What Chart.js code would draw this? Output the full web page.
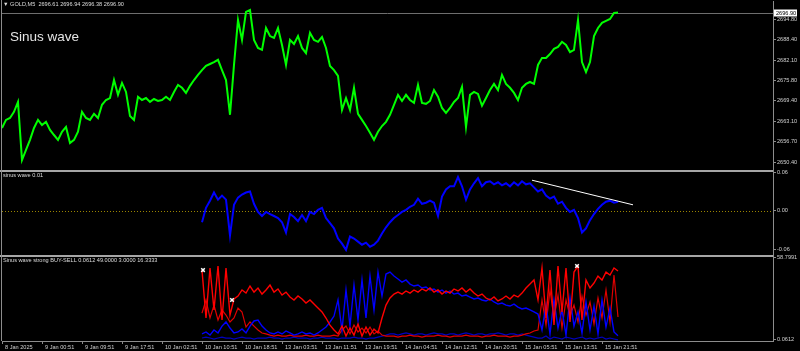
<!DOCTYPE html>
<html>
<head>
<meta charset="utf-8">
<script src="https://cdn.jsdelivr.net/npm/chart.js@4/dist/chart.umd.min.js"></script>
<style>
  html, body { margin: 0; padding: 0; background: #000; }
  #marco { position: relative; width: 800px; height: 351px; }
  .txt { position: absolute; color: #dcdcdc; font-family: 'Liberation Sans', Arial, sans-serif; font-size: 5.6px; line-height: 1; white-space: nowrap; }
</style>
</head>
<body>
<div id="marco">
  <canvas id="graficoOro" width="800" height="351"></canvas>
  <div class="txt" style="left:3px;top:2.3px">▼ GOLD,M5 &nbsp;2696.61 2696.94 2696.38 2696.90</div>
  <div class="txt" style="left:10px;top:30px;font-size:13.5px;color:#e4e4e4">Sinus wave</div>
  <div class="txt" style="left:3px;top:173.3px">sinus wave 0.01</div>
  <div class="txt" style="left:3px;top:258.3px">Sinus wave strong BUY-SELL 0.0612 49.0000 3.0000 16.3333</div>
</div>
<script>
// Etiquetas del eje de tiempo (una cada 10 barras del gráfico)
const etiquetasTiempo = [
  '8 Jan 2025', '9 Jan 00:51', '9 Jan 09:51', '9 Jan 17:51', '10 Jan 02:51', '10 Jan 10:51',
  '10 Jan 18:51', '13 Jan 03:51', '13 Jan 11:51', '13 Jan 19:51', '14 Jan 04:51', '14 Jan 12:51',
  '14 Jan 20:51', '15 Jan 05:51', '15 Jan 13:51', '15 Jan 21:51'
];

// Escala de precio
const ticksPrecio = [2694.80, 2688.40, 2682.10, 2675.80, 2669.40, 2663.10, 2656.70, 2650.40];
const precioActual = 2696.90;

// Precio GOLD M5
const precios = [
  2661.0, 2663.5, 2664.1, 2666.0, 2669.1, 2651.0, 2654.2, 2657.3, 2661.0, 2663.5,
  2661.9, 2662.9, 2660.4, 2658.8, 2657.3, 2659.8, 2661.3, 2656.3, 2657.3, 2659.8,
  2666.0, 2664.1, 2663.5, 2665.4, 2664.1, 2668.2, 2669.7, 2670.3, 2675.9, 2671.3,
  2675.0, 2672.2, 2664.7, 2663.5, 2670.7, 2669.7, 2670.3, 2669.1, 2670.0, 2669.4,
  2669.7, 2670.7, 2669.7, 2672.2, 2674.4, 2673.5, 2671.9, 2674.1, 2675.9, 2677.5,
  2679.0, 2680.3, 2680.9, 2681.5, 2682.2, 2679.0, 2675.9, 2665.1, 2680.6, 2694.6,
  2688.4, 2697.1, 2697.7, 2688.4, 2685.9, 2685.3, 2692.1, 2689.6, 2689.0, 2692.1,
  2686.8, 2680.6, 2688.4, 2687.1, 2689.6, 2685.9, 2684.3, 2690.6, 2688.4, 2687.8,
  2689.3, 2685.9, 2680.3, 2679.0, 2677.2, 2666.6, 2670.3, 2666.6, 2673.5, 2665.4,
  2663.5, 2661.6, 2659.5, 2657.3, 2659.8, 2661.6, 2662.9, 2665.1, 2668.2, 2671.3,
  2669.4, 2671.3, 2669.7, 2668.8, 2674.4, 2668.8, 2668.5, 2669.4, 2672.8, 2670.7,
  2667.2, 2665.7, 2667.2, 2669.1, 2670.3, 2673.8, 2661.3, 2671.3, 2672.2, 2671.6,
  2667.9, 2670.3, 2672.8, 2674.7, 2672.8, 2677.5, 2674.7, 2673.5, 2671.9, 2669.7,
  2673.5, 2674.7, 2675.3, 2674.7, 2680.6, 2682.8, 2682.8, 2684.0, 2685.6, 2686.2,
  2687.8, 2686.8, 2684.6, 2685.3, 2694.6, 2681.5, 2678.4, 2681.5, 2689.6, 2692.1,
  2693.7, 2694.3, 2694.9, 2696.8, 2696.9
];

// Los indicadores empiezan en la barra 50 (10 Jan 10:51)
const inicioIndicador = 50;

// sinus wave 0.01
const ticksSinus = [0.06, 0.00, -0.06];
const nivelCero = 0;
const sinusWave = [
  -0.0175, 0.0048, 0.0159, 0.0286, 0.0175, 0.0238, 0.0175, -0.0382, 0.0095, 0.0207,
  0.0254, 0.0286, 0.0302, 0.0111, -0.0016, -0.0079, -0.0016, -0.0048, -0.0079, -0.0111,
  -0.0175, -0.0334, -0.0048, -0.0095, -0.0159, -0.0064, -0.0159, -0.0016, -0.0048, 0.0016,
  0.0048, -0.0111, -0.0191, -0.0270, -0.0429, -0.0509, -0.0604, -0.0397, -0.0429, -0.0477,
  -0.0525, -0.0493, -0.0556, -0.0525, -0.0461, -0.0350, -0.0254, -0.0175, -0.0111, -0.0064,
  -0.0016, 0.0016, 0.0064, 0.0095, 0.0191, 0.0111, 0.0127, 0.0159, 0.0127, -0.0079,
  0.0223, 0.0334, 0.0382, 0.0382, 0.0525, 0.0382, 0.0175, 0.0334, 0.0429, 0.0509,
  0.0382, 0.0445, 0.0461, 0.0413, 0.0445, 0.0397, 0.0429, 0.0382, 0.0445, 0.0397,
  0.0461, 0.0413, 0.0429, 0.0366, 0.0302, 0.0334, 0.0238, 0.0191, 0.0223, 0.0111,
  0.0143, 0.0048, -0.0016, 0.0016, -0.0111, -0.0334, -0.0270, -0.0143, -0.0048, 0.0032,
  0.0095, 0.0143, 0.0159, 0.0127, 0.0143
];
// línea de tendencia dibujada a mano (barra, valor)
const tendenciaX = [132.5, 157.75];
const tendenciaY = [0.0477, 0.0095];

// Sinus wave strong BUY-SELL
const ticksFuerza = [58.7991, 0.0612];
const fuerzaRoja = [
  49.6, 15.6, 51.1, 21.3, 52.5, 14.2, 51.1, 17.7, 29.1, 31.2,
  35.5, 33.3, 38.3, 34.0, 36.9, 32.6, 35.5, 39.0, 34.0, 36.2,
  31.9, 34.0, 30.5, 28.4, 31.2, 29.1, 26.2, 28.4, 25.5, 22.7,
  19.9, 15.6, 10.6, 7.1, 4.3, 9.9, 2.8, 8.5, 3.5, 11.3,
  2.8, 9.2, 3.5, 7.8, 5.0, 15.6, 24.8, 29.8, 32.6, 34.0,
  32.6, 34.8, 33.3, 35.5, 34.0, 36.2, 34.8, 36.9, 34.0, 35.5,
  32.6, 34.8, 33.3, 36.2, 34.8, 36.9, 34.0, 36.2, 33.3, 31.2,
  32.6, 29.8, 28.4, 30.5, 27.7, 29.1, 31.2, 29.1, 31.9, 30.5,
  33.3, 36.9, 39.7, 42.6, 28.4, 51.1, 15.6, 49.6, 10.6, 52.5,
  19.9, 51.1, 12.8, 48.2, 52.5, 14.2, 42.6, 36.9, 40.4, 45.4,
  42.6, 48.2, 46.1, 51.1, 49.0
];
const fuerzaRoja2 = [
  19.1, 28.4, 15.6, 24.8, 14.2, 21.3, 17.7, 12.8, 15.6, 22.7,
  19.9, 9.2, 12.8, 9.9, 7.1, 5.0, 4.3, 3.5, 2.8, 3.5,
  2.8, 2.8, 3.5, 2.8, 2.8, 2.8, 3.5, 2.8, 2.8, 3.5,
  2.8, 2.8, 2.8, 3.5, 2.8, 7.1, 9.9, 4.3, 10.6, 5.7,
  8.5, 5.0, 9.2, 4.3, 6.4, 3.5, 2.8, 2.8, 2.8, 2.1,
  2.8, 2.8, 3.5, 2.8, 2.8, 2.1, 2.8, 2.8, 2.8, 3.5,
  2.8, 2.8, 2.1, 2.8, 2.8, 2.8, 3.5, 2.8, 2.8, 2.8,
  2.1, 2.8, 2.8, 3.5, 2.8, 2.8, 2.8, 2.1, 2.8, 2.8,
  3.5, 4.3, 5.0, 6.4, 7.1, 28.4, 10.6, 35.5, 15.6, 31.9,
  8.5, 28.4, 17.0, 24.8, 12.8, 31.2, 17.7, 27.0, 11.3, 29.8,
  15.6, 35.5, 12.8, 46.1, 16.3
];
const fuerzaAzul = [
  4.3, 5.7, 3.5, 7.1, 5.0, 9.9, 12.8, 8.5, 5.0, 5.7,
  7.8, 5.0, 9.9, 13.5, 14.2, 9.9, 7.1, 5.0, 4.3, 5.7,
  4.3, 6.4, 5.0, 3.5, 4.3, 5.7, 4.3, 5.0, 3.5, 5.0,
  7.1, 9.2, 12.8, 17.0, 28.4, 7.1, 35.5, 9.9, 39.0, 14.2,
  42.6, 15.6, 45.4, 21.3, 48.2, 31.2, 46.8, 48.2, 45.4, 43.3,
  41.1, 42.6, 39.7, 38.3, 39.0, 36.9, 37.6, 35.5, 36.2, 34.0,
  35.5, 33.3, 34.8, 32.6, 33.3, 31.2, 31.9, 30.5, 29.1, 29.8,
  28.4, 27.7, 29.1, 27.0, 25.5, 26.2, 24.8, 24.1, 25.5, 23.4,
  22.0, 22.7, 21.3, 19.9, 18.4, 7.1, 24.8, 4.3, 28.4, 8.5,
  21.3, 3.5, 29.8, 9.9, 19.9, 5.0, 27.0, 7.1, 24.1, 4.3,
  28.4, 9.2, 22.7, 5.7, 3.0
];
const fuerzaAzul2 = [
  1.4, 2.1, 1.4, 0.7, 1.4, 2.1, 1.4, 1.4, 0.7, 1.4,
  2.1, 1.4, 1.4, 0.7, 1.4, 1.4, 1.4, 2.1, 1.4, 1.4,
  0.7, 1.4, 1.4, 2.1, 1.4, 1.4, 1.4, 0.7, 1.4, 1.4,
  2.1, 1.4, 1.4, 1.4, 0.7, 1.4, 1.4, 1.4, 2.1, 1.4,
  1.4, 0.7, 1.4, 1.4, 2.1, 2.8, 3.5, 4.3, 4.3, 3.5,
  4.3, 5.0, 4.3, 3.5, 4.3, 4.3, 3.5, 4.3, 5.0, 4.3,
  4.3, 3.5, 4.3, 4.3, 3.5, 4.3, 5.0, 4.3, 3.5, 4.3,
  4.3, 3.5, 4.3, 4.3, 5.0, 4.3, 3.5, 4.3, 4.3, 3.5,
  4.3, 3.5, 2.8, 2.1, 1.4, 1.4, 2.8, 0.7, 2.1, 1.4,
  0.7, 2.1, 1.4, 0.7, 1.4, 2.1, 0.7, 1.4, 0.7, 1.4,
  2.1, 0.7, 1.4, 0.7, 0.06
];
// señales (barra, valor)
const senalX = [50.25, 57.5, 143.75];
const senalY = [49.6, 28.4, 52.5];

// arma puntos {x, y} a partir de una serie que empieza en la barra "desde"
const puntos = (valores, desde) => valores.map((v, i) => ({ x: desde + i, y: v }));

const fuenteEje = { family: "'Liberation Sans', Arial, sans-serif", size: 5.6 };
const colorEje = '#8c8c8c';

function ejeDerecho(peso, min, max, valoresTick, decimales) {
    return {
        type: 'linear',
        position: 'right',
        stack: 'paneles',
        stackWeight: peso,
        min: min,
        max: max,
        afterBuildTicks: s => { s.ticks = valoresTick.map(v => ({ value: v })); },
        afterFit: s => { s.width = 27; s.paddingTop = 0; s.paddingBottom = 0; },
        grid: { drawOnChartArea: false, drawTicks: true, tickLength: 3, color: colorEje },
        border: { color: colorEje },
        ticks: {
            autoSkip: false,
            padding: 1,
            color: '#cfcfcf',
            font: fuenteEje,
            callback: v => Number(v).toFixed(decimales)
        }
    };
}

// Marco estilo MetaTrader: separadores, línea de precio, nivel cero
const marcoMT = {
    id: 'marcoMT',
    beforeDatasetsDraw(chart) {
        const { ctx, chartArea: a, scales } = chart;
        ctx.save();
        const yP = Math.round(scales.yPrecio.getPixelForValue(precioActual)) + 0.5;
        ctx.strokeStyle = '#6e6e6e';
        ctx.lineWidth = 1;
        ctx.beginPath(); ctx.moveTo(a.left, yP); ctx.lineTo(a.right, yP); ctx.stroke();
        const y0 = Math.round(scales.ySinus.getPixelForValue(nivelCero)) + 0.5;
        ctx.strokeStyle = '#9a8400';
        ctx.setLineDash([1, 2]);
        ctx.beginPath(); ctx.moveTo(a.left, y0); ctx.lineTo(a.right, y0); ctx.stroke();
        ctx.restore();
    },
    afterDraw(chart) {
        const { ctx, chartArea: a, scales } = chart;
        ctx.save();
        ctx.fillStyle = '#a6a6a6';
        ctx.fillRect(0, scales.ySinus.top - 1, a.right, 2);
        ctx.fillRect(0, scales.yFuerza.top - 1, a.right, 2);
        ctx.fillStyle = colorEje;
        ctx.fillRect(1, 0, 1, a.bottom);
        // etiqueta del precio actual
        const yP = Math.round(scales.yPrecio.getPixelForValue(precioActual));
        ctx.fillStyle = '#ffffff';
        ctx.fillRect(a.right + 1, yP - 3.5, 23, 7);
        ctx.fillStyle = '#000000';
        ctx.font = "5.6px 'Liberation Sans', Arial, sans-serif";
        ctx.textBaseline = 'middle';
        ctx.fillText(precioActual.toFixed(2), a.right + 3, yP + 0.5);
        ctx.restore();
    }
};

const ctxOro = document.getElementById('graficoOro').getContext('2d');
const graficoOro = new Chart(ctxOro, {
    type: 'line',
    data: {
        datasets: [
            { label: 'señal', type: 'scatter', data: senalX.map((x, i) => ({ x: x, y: senalY[i] })), yAxisID: 'yFuerza',
              pointStyle: 'crossRot', pointRadius: 2.5, borderColor: '#ffffff', backgroundColor: '#ffffff', borderWidth: 1.5 },
            { label: 'tendencia', data: tendenciaX.map((x, i) => ({ x: x, y: tendenciaY[i] })), yAxisID: 'ySinus',
              borderColor: '#ffffff', borderWidth: 1 },
            { label: 'GOLD,M5', data: puntos(precios, 0), yAxisID: 'yPrecio', borderColor: '#00ff00', borderWidth: 2 },
            { label: 'sinus wave', data: puntos(sinusWave, inicioIndicador), yAxisID: 'ySinus', borderColor: '#0000ff', borderWidth: 2 },
            { label: 'BUY', data: puntos(fuerzaRoja, inicioIndicador), yAxisID: 'yFuerza', borderColor: '#ff0000', borderWidth: 1.4 },
            { label: 'SELL', data: puntos(fuerzaAzul, inicioIndicador), yAxisID: 'yFuerza', borderColor: '#0000ff', borderWidth: 1.4 },
            { label: 'BUY 2', data: puntos(fuerzaRoja2, inicioIndicador), yAxisID: 'yFuerza', borderColor: '#e00000', borderWidth: 1.2 },
            { label: 'SELL 2', data: puntos(fuerzaAzul2, inicioIndicador), yAxisID: 'yFuerza', borderColor: '#0000c0', borderWidth: 1.2 }
        ]
    },
    options: {
        responsive: false,
        animation: false,
        devicePixelRatio: 1,
        layout: { padding: { left: 2, top: 1, right: 0, bottom: 0 }, autoPadding: false },
        elements: { point: { radius: 0 }, line: { tension: 0 } },
        plugins: { legend: { display: false }, tooltip: { enabled: false } },
        scales: {
            x: {
                type: 'linear',
                position: 'bottom',
                min: 0,
                max: 192.75,
                afterBuildTicks: s => { s.ticks = etiquetasTiempo.map((t, k) => ({ value: k * 10 })); },
                afterFit: s => { s.height = 10; s.paddingLeft = 0; s.paddingRight = 0; },
                grid: { drawOnChartArea: false, drawTicks: true, tickLength: 3, color: colorEje },
                border: { color: colorEje },
                ticks: {
                    autoSkip: false,
                    maxRotation: 0,
                    align: 'start',
                    labelOffset: 3,
                    padding: 0,
                    color: '#cfcfcf',
                    font: fuenteEje,
                    callback: (v, i) => etiquetasTiempo[i]
                }
            },
            yPrecio: ejeDerecho(170, 2647.6, 2700.5, ticksPrecio, 2),
            ySinus: ejeDerecho(85, -0.070, 0.062, ticksSinus, 2),
            yFuerza: ejeDerecho(85, -0.7, 59.6, ticksFuerza, 4)
        }
    },
    plugins: [marcoMT]
});
</script>
</body>
</html>
